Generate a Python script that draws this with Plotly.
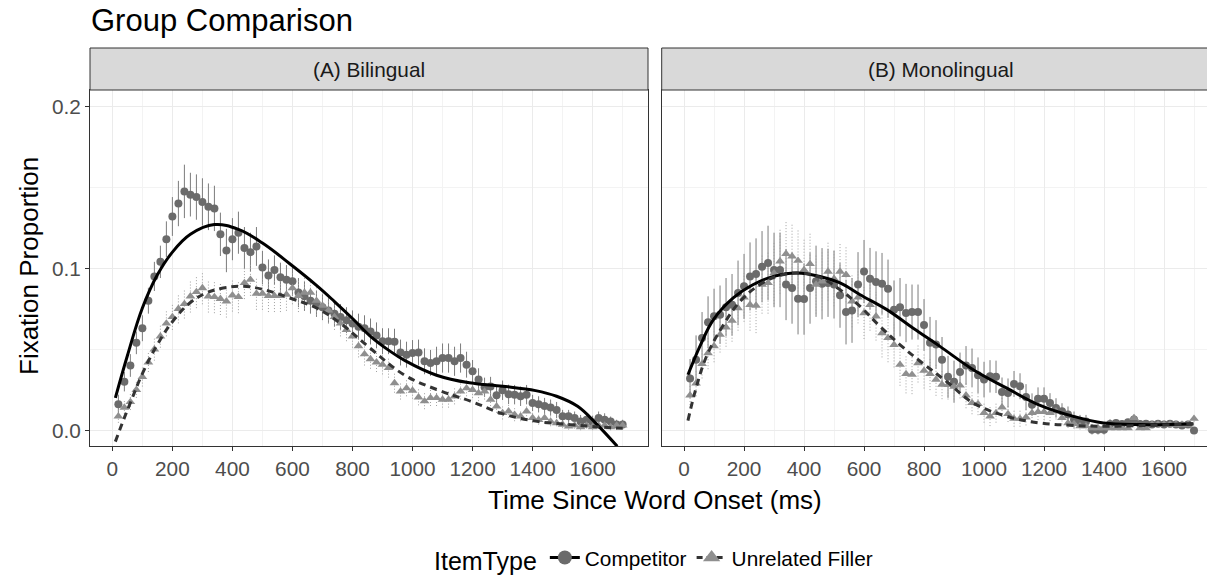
import plotly.graph_objects as go

# window is 1215x583; the page body has an 8px margin, so the figure is drawn
# shifted right/down and sized to end at the window's edges.
OFF = 8
OFF_Y = 10
W, H = 1215 - OFF, 583 - OFF

# ---------------- data ----------------
time_ms = list(range(20, 1701, 20))  # 85 bins

bil_comp = [
    0.016, 0.030, 0.040, 0.054, 0.063, 0.080, 0.095, 0.104, 0.118, 0.132,
    0.140, 0.1475, 0.1455, 0.144, 0.141, 0.138, 0.137, 0.121, 0.111, 0.118,
    0.122, 0.1125, 0.110, 0.1135, 0.1005, 0.0955, 0.099, 0.0945, 0.093, 0.092,
    0.085, 0.0827, 0.080, 0.078, 0.076, 0.074, 0.072, 0.070, 0.068, 0.066,
    0.064, 0.063, 0.061, 0.0586, 0.055, 0.055, 0.0547, 0.048, 0.0467, 0.0477,
    0.048, 0.0426, 0.0416, 0.0426, 0.0446, 0.0446, 0.0426, 0.0446, 0.0405, 0.0364,
    0.0313, 0.0265, 0.027, 0.0216, 0.0247, 0.0222, 0.022, 0.021, 0.022, 0.0169,
    0.016, 0.015, 0.014, 0.0125, 0.0086, 0.0086, 0.0076, 0.0055, 0.0065, 0.005,
    0.0076, 0.0065, 0.0055, 0.0035, 0.0035]
bil_comp_err = [
    0.006, 0.006, 0.007, 0.007, 0.008, 0.008, 0.009, 0.010, 0.011, 0.012,
    0.014, 0.0165, 0.0135, 0.014, 0.0146, 0.0144, 0.014, 0.0134, 0.0134, 0.013,
    0.013, 0.013, 0.012, 0.012, 0.0103, 0.010, 0.009, 0.009, 0.009, 0.009,
    0.009, 0.009, 0.008, 0.008, 0.008, 0.008, 0.008, 0.008, 0.008, 0.008,
    0.008, 0.008, 0.008, 0.008, 0.008, 0.008, 0.008, 0.008, 0.008, 0.008,
    0.008, 0.008, 0.008, 0.009, 0.009, 0.009, 0.009, 0.009, 0.008, 0.007,
    0.007, 0.006, 0.006, 0.006, 0.006, 0.006, 0.006, 0.006, 0.006, 0.005,
    0.005, 0.005, 0.005, 0.005, 0.004, 0.004, 0.004, 0.004, 0.004, 0.004,
    0.004, 0.004, 0.003, 0.003, 0.003]

bil_fill = [
    0.0086, 0.014, 0.0175, 0.025, 0.033, 0.042, 0.050, 0.058, 0.066, 0.070,
    0.075, 0.078, 0.0827, 0.0854, 0.0878, 0.0827, 0.0823, 0.0812, 0.0796, 0.0833,
    0.0823, 0.091, 0.093, 0.0844, 0.0844, 0.083, 0.083, 0.083, 0.0838, 0.0878,
    0.083, 0.085, 0.085, 0.080, 0.077, 0.074, 0.070, 0.066, 0.062, 0.058,
    0.052, 0.047, 0.044, 0.042, 0.0405, 0.0385, 0.0292, 0.024, 0.026, 0.0245,
    0.0204, 0.018, 0.020, 0.020, 0.019, 0.019, 0.021, 0.024, 0.026, 0.025,
    0.023, 0.024, 0.019, 0.0148, 0.0107, 0.0117, 0.0096, 0.0086, 0.0117, 0.0076,
    0.0065, 0.0076, 0.0055, 0.0045, 0.0035, 0.0024, 0.003, 0.002, 0.003, 0.002,
    0.003, 0.003, 0.002, 0.003, 0.003]
bil_fill_err = [
    0.004, 0.004, 0.005, 0.005, 0.006, 0.006, 0.007, 0.007, 0.008, 0.008,
    0.009, 0.009, 0.010, 0.010, 0.010, 0.010, 0.010, 0.010, 0.010, 0.010,
    0.010, 0.010, 0.010, 0.010, 0.010, 0.010, 0.010, 0.010, 0.010, 0.010,
    0.010, 0.010, 0.009, 0.009, 0.008, 0.008, 0.008, 0.008, 0.007, 0.007,
    0.007, 0.007, 0.006, 0.006, 0.006, 0.006, 0.006, 0.005, 0.005, 0.005,
    0.005, 0.005, 0.005, 0.005, 0.005, 0.005, 0.005, 0.005, 0.005, 0.005,
    0.005, 0.005, 0.004, 0.004, 0.004, 0.004, 0.004, 0.003, 0.003, 0.003,
    0.003, 0.003, 0.003, 0.002, 0.002, 0.002, 0.002, 0.002, 0.002, 0.002,
    0.002, 0.002, 0.002, 0.002, 0.002]

mono_comp = [
    0.032, 0.0436, 0.057, 0.0667, 0.0704, 0.0714, 0.076, 0.0775, 0.0848, 0.0889,
    0.095, 0.0965, 0.101, 0.1033, 0.099, 0.099, 0.090, 0.0878, 0.0812, 0.081,
    0.0878, 0.092, 0.0905, 0.091, 0.090, 0.0833, 0.073, 0.074, 0.090, 0.098,
    0.0936, 0.0915, 0.0905, 0.0874, 0.0745, 0.076, 0.0724, 0.073, 0.073, 0.065,
    0.054, 0.053, 0.0436, 0.033, 0.030, 0.036, 0.040, 0.0385, 0.034, 0.0313,
    0.0333, 0.033, 0.0236, 0.023, 0.0286, 0.0272, 0.0205, 0.0158, 0.0195, 0.0195,
    0.0169, 0.0138, 0.0117, 0.0097, 0.0066, 0.0055, 0.0055, 0.0004, 0.0004, 0.0004,
    0.0039, 0.0045, 0.0039, 0.005, 0.0066, 0.0039, 0.004, 0.0035, 0.004, 0.0035,
    0.004, 0.0035, 0.003, 0.0035, -0.0002]
mono_comp_err = [
    0.012, 0.015, 0.016, 0.016, 0.017, 0.018, 0.018, 0.019, 0.020, 0.020,
    0.021, 0.022, 0.022, 0.023, 0.023, 0.023, 0.022, 0.022, 0.022, 0.022,
    0.022, 0.022, 0.022, 0.021, 0.021, 0.020, 0.020, 0.020, 0.020, 0.0195,
    0.019, 0.019, 0.019, 0.018, 0.018, 0.018, 0.018, 0.017, 0.017, 0.016,
    0.016, 0.015, 0.014, 0.013, 0.013, 0.012, 0.012, 0.012, 0.011, 0.011,
    0.010, 0.010, 0.009, 0.009, 0.008, 0.008, 0.008, 0.007, 0.007, 0.007,
    0.006, 0.006, 0.005, 0.005, 0.005, 0.004, 0.004, 0.003, 0.003, 0.003,
    0.003, 0.002, 0.002, 0.002, 0.003, 0.002, 0.002, 0.002, 0.002, 0.002,
    0.002, 0.002, 0.002, 0.002, 0.002]

mono_fill = [
    0.0216, 0.029, 0.041, 0.0477, 0.052, 0.059, 0.0636, 0.0677, 0.0755, 0.082,
    0.0775, 0.077, 0.090, 0.091, 0.097, 0.1043, 0.109, 0.1074, 0.1047, 0.099,
    0.1027, 0.090, 0.092, 0.098, 0.0936, 0.098, 0.096, 0.0796, 0.082, 0.0724,
    0.0775, 0.0704, 0.060, 0.057, 0.0528, 0.0405, 0.0348, 0.0343, 0.0415, 0.0368,
    0.0348, 0.0313, 0.0282, 0.028, 0.027, 0.0277, 0.0216, 0.0169, 0.0163, 0.0107,
    0.0086, 0.0107, 0.0142, 0.0101, 0.0072, 0.0072, 0.008, 0.0107, 0.0113, 0.0113,
    0.0107, 0.0117, 0.0076, 0.0045, 0.0039, 0.0025, 0.0025, 0.0014, 0.0014, 0.0014,
    0.0014, 0.0014, 0.0014, 0.0014, 0.0076, 0.0014, 0.0014, 0.0035, 0.0035, 0.0035,
    0.0035, 0.0035, 0.0035, 0.0035, 0.0072]
mono_fill_err = [
    0.006, 0.008, 0.009, 0.010, 0.010, 0.011, 0.012, 0.013, 0.014, 0.015,
    0.016, 0.017, 0.018, 0.019, 0.019, 0.020, 0.020, 0.020, 0.019, 0.019,
    0.019, 0.018, 0.018, 0.018, 0.017, 0.017, 0.017, 0.016, 0.016, 0.016,
    0.016, 0.015, 0.015, 0.015, 0.014, 0.013, 0.012, 0.012, 0.012, 0.011,
    0.010, 0.010, 0.009, 0.009, 0.008, 0.008, 0.008, 0.007, 0.007, 0.006,
    0.006, 0.006, 0.006, 0.005, 0.005, 0.005, 0.005, 0.005, 0.005, 0.005,
    0.005, 0.005, 0.004, 0.003, 0.003, 0.002, 0.002, 0.001, 0.001, 0.001,
    0.001, 0.001, 0.001, 0.001, 0.002, 0.001, 0.001, 0.001, 0.001, 0.001,
    0.001, 0.001, 0.001, 0.001, 0.002]

# smooth (model fit) curves
bil_comp_fit_t = [10, 50, 100, 150, 200, 260, 340, 420, 500, 590, 680, 740, 800, 860,
                  920, 975, 1080, 1190, 1300, 1410, 1480, 1550, 1615, 1682]
bil_comp_fit = [0.020, 0.046, 0.0755, 0.096, 0.110, 0.121, 0.127, 0.124, 0.1156, 0.103,
                0.0895, 0.0795, 0.069, 0.058, 0.0495, 0.0430, 0.0340, 0.0293, 0.0272,
                0.0245, 0.021, 0.0148, 0.0035, -0.0099]
bil_fill_fit_t = [10, 30, 60, 100, 150, 200, 258, 313, 369, 436, 502, 591, 680, 760, 860,
                  974, 1083, 1193, 1304, 1415, 1526, 1637, 1700]
bil_fill_fit = [-0.007, 0.003, 0.017, 0.035, 0.053, 0.067, 0.0786, 0.0848, 0.0878, 0.0889,
                0.087, 0.0817, 0.0755, 0.066, 0.0505, 0.0340, 0.025, 0.018, 0.010, 0.0055,
                0.0035, 0.0019, 0.0012]
mono_comp_fit_t = [13, 55, 98, 164, 231, 298, 375, 453, 520, 587, 676, 764, 853, 964,
                   1076, 1187, 1298, 1398, 1520, 1698]
mono_comp_fit = [0.0343, 0.0528, 0.0683, 0.0817, 0.090, 0.095, 0.0971, 0.095, 0.091, 0.0837,
                 0.0745, 0.063, 0.0518, 0.0374, 0.026, 0.0154, 0.0086, 0.0045, 0.0035, 0.0039]
mono_fill_fit_t = [13, 37, 75, 131, 187, 253, 320, 387, 453, 520, 587, 653, 720, 787, 876,
                   964, 1076, 1187, 1298, 1400, 1550, 1698]
mono_fill_fit = [0.006, 0.024, 0.0457, 0.065, 0.0796, 0.090, 0.0957, 0.0971, 0.0944, 0.0868,
                 0.0765, 0.0642, 0.0528, 0.0426, 0.030, 0.0169, 0.0086, 0.0045, 0.003, 0.0025,
                 0.003, 0.004]

panel_titles = ["(A) Bilingual", "(B) Monolingual"]
series_names = ["Competitor", "Unrelated Filler"]
x_ticks = list(range(0, 1601, 200))

# ---------------- styling ----------------
FONT = "Liberation Sans, Arial, sans-serif"
COMP_PT = "#6b6b6b"
FILL_PT = "#8f8f8f"
COMP_EB = "#7c7c7c"
FILL_EB = "#a0a0a0"


def px(x):
    """window pixel x -> paper fraction"""
    return (x - OFF) / W


def py(y):
    """window pixel y -> paper fraction"""
    return 1 - (y - OFF_Y) / H


def errbar_xy(xs, ys, es):
    bx, by = [], []
    for x, y, e in zip(xs, ys, es):
        bx += [x, x, None]
        by += [y - e, y + e, None]
    return bx, by


fig = go.Figure()

panels = [
    ("x", "y", bil_comp, bil_comp_err, bil_fill, bil_fill_err,
     bil_comp_fit_t, bil_comp_fit, bil_fill_fit_t, bil_fill_fit),
    ("x2", "y2", mono_comp, mono_comp_err, mono_fill, mono_fill_err,
     mono_comp_fit_t, mono_comp_fit, mono_fill_fit_t, mono_fill_fit),
]

for (xa, ya, comp, comp_e, fill, fill_e, cft, cf, fft, ff) in panels:
    bx, by = errbar_xy(time_ms, comp, comp_e)
    fig.add_trace(go.Scatter(x=bx, y=by, xaxis=xa, yaxis=ya, mode="lines",
                             line=dict(color=COMP_EB, width=1), showlegend=False,
                             hoverinfo="skip"))
    bx, by = errbar_xy(time_ms, fill, fill_e)
    fig.add_trace(go.Scatter(x=bx, y=by, xaxis=xa, yaxis=ya, mode="lines",
                             line=dict(color=FILL_EB, width=1, dash="1px,2px"),
                             showlegend=False, hoverinfo="skip"))
    fig.add_trace(go.Scatter(x=time_ms, y=comp, xaxis=xa, yaxis=ya, mode="markers",
                             marker=dict(symbol="circle", size=8, color=COMP_PT),
                             showlegend=False, name=series_names[0]))
    fig.add_trace(go.Scatter(x=time_ms, y=fill, xaxis=xa, yaxis=ya, mode="markers",
                             marker=dict(symbol="triangle-up", size=8.5, color=FILL_PT),
                             showlegend=False, name=series_names[1]))
    fig.add_trace(go.Scatter(x=cft, y=cf, xaxis=xa, yaxis=ya, mode="lines",
                             line=dict(color="black", width=3, shape="spline",
                                       smoothing=1.1),
                             showlegend=False))
    fig.add_trace(go.Scatter(x=fft, y=ff, xaxis=xa, yaxis=ya, mode="lines",
                             line=dict(color="#333333", width=3, shape="spline",
                                       smoothing=1.1, dash="7px,5px"),
                             showlegend=False))

# legend entries
fig.add_trace(go.Scatter(x=[None], y=[None], mode="lines+markers", name=series_names[0],
                         line=dict(color="black", width=3),
                         marker=dict(symbol="circle", size=14, color=COMP_PT)))
fig.add_trace(go.Scatter(x=[None], y=[None], mode="lines+markers", name=series_names[1],
                         line=dict(color="#333333", width=3, dash="6px,4px"),
                         marker=dict(symbol="triangle-up", size=15, color=FILL_PT)))

x_left_A, x_right_A = 90, 648
x_left_B = 661.7
y_top, y_bot = 92, 448
strip_top = 50

common_x = dict(
    tickmode="array", tickvals=x_ticks, ticktext=[str(v) for v in x_ticks],
    ticks="outside", ticklen=4, tickcolor="#333333", tickwidth=1,
    tickfont=dict(size=20.8, color="#4D4D4D", family=FONT),
    showgrid=True, gridcolor="#EBEBEB", gridwidth=1.1,
    minor=dict(tickvals=list(range(100, 1800, 200)), showgrid=True,
               gridcolor="#F3F3F3", gridwidth=0.6, ticks=""),
    showline=True, linecolor="#333333", linewidth=1, mirror=True,
    zeroline=False, automargin=False,
)
common_y = dict(
    range=[-0.0097, 0.2101], tickvals=[0.0, 0.1, 0.2], ticktext=["0.0", "0.1", "0.2"],
    showgrid=True, gridcolor="#EBEBEB", gridwidth=1.1,
    minor=dict(tickvals=[0.05, 0.15], showgrid=True, gridcolor="#F3F3F3",
               gridwidth=0.6, ticks=""),
    zeroline=False, automargin=False,
    domain=[py(y_bot), py(y_top)],
)

fig.update_layout(
    width=W, height=H,
    margin=dict(l=0, r=0, t=0, b=0),
    paper_bgcolor="white", plot_bgcolor="white",
    font=dict(family=FONT, color="black"),
    xaxis=dict(domain=[px(x_left_A), px(x_right_A)], range=[-74.5, 1784.5],
               anchor="y", **common_x),
    xaxis2=dict(domain=[px(x_left_B), 1.0], range=[-74.5, 1770],
                anchor="y2", **common_x),
    yaxis=dict(anchor="x", ticks="outside", ticklen=4, tickcolor="#333333",
               tickfont=dict(size=20.8, color="#4D4D4D", family=FONT),
               showline=True, linecolor="#333333", linewidth=1, mirror=True,
               **common_y),
    yaxis2=dict(anchor="x2", matches="y", showticklabels=False, ticks="",
                showline=True, linecolor="#333333", linewidth=1, mirror=False,
                **common_y),
    showlegend=True,
    legend=dict(orientation="h", x=px(655), xanchor="center", y=py(561),
                yanchor="middle", bgcolor="rgba(0,0,0,0)",
                font=dict(size=20.8, family=FONT, color="black"),
                title=dict(text="ItemType", side="left",
                           font=dict(size=25, family=FONT, color="black"))),
)

# strips
strip_w = x_right_A - x_left_A
for (x0, label) in [(x_left_A, panel_titles[0]), (x_left_B, panel_titles[1])]:
    x1 = x0 + strip_w
    fig.add_shape(type="rect", xref="paper", yref="paper",
                  x0=px(x0), x1=px(min(x1, 1225)), y0=py(y_top), y1=py(strip_top),
                  fillcolor="#D9D9D9", line=dict(color="#333333", width=1))
    fig.add_annotation(text=label, xref="paper", yref="paper", x=px((x0 + x1) / 2),
                       y=py((strip_top + y_top) / 2), showarrow=False,
                       xanchor="center", yanchor="middle",
                       font=dict(size=20.8, color="#1A1A1A", family=FONT))

# title and axis titles
fig.add_annotation(text="Group Comparison", xref="paper", yref="paper",
                   x=px(89), y=py(22), xanchor="left", yanchor="middle",
                   showarrow=False, font=dict(size=31, color="black", family=FONT))
fig.add_annotation(text="Time Since Word Onset (ms)", xref="paper", yref="paper",
                   x=px(655), y=py(502), xanchor="center", yanchor="middle",
                   showarrow=False, font=dict(size=26, color="black", family=FONT))
fig.add_annotation(text="Fixation Proportion", xref="paper", yref="paper",
                   x=px(29), y=py(268), xanchor="center", yanchor="middle",
                   textangle=-90, showarrow=False,
                   font=dict(size=26, color="black", family=FONT))

fig.write_html("out.html")
